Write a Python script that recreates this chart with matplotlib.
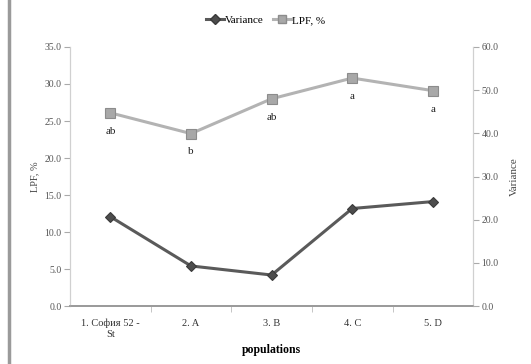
import matplotlib.pyplot as plt
from matplotlib.lines import Line2D

# data
populations = ['1. София 52 -\nSt', '2. A', '3. B', '4. C', '5. D']
lpf = [26.1, 23.3, 28.0, 30.8, 29.1]          # left axis, %
variance = [20.7, 9.3, 7.2, 22.6, 24.2]       # right axis
letters = ['ab', 'b', 'ab', 'a', 'a']

plt.rcParams['font.family'] = ['Liberation Serif', 'DejaVu Serif']

fig = plt.figure(figsize=(5.31, 3.64), dpi=100)
ax = fig.add_axes([0.132, 0.159, 0.759, 0.712])
ax2 = ax.twinx()

x = range(len(populations))

# LPF line (light grey squares) on left axis
ax.plot(x, lpf, color='#b3b3b3', lw=2.2, marker='s', ms=7,
        mfc='#a8a8a8', mec='#8c8c8c', mew=0.8, zorder=3)
for xi, yi, t in zip(x, lpf, letters):
    ax.annotate(t, (xi, yi), xytext=(0, -10), textcoords='offset points',
                ha='center', va='top', fontsize=8, color='#222222')

# Variance line (dark grey diamonds) on right axis
ax2.plot(x, variance, color='#5a5a5a', lw=2.2, marker='D', ms=5.5,
         mfc='#4d4d4d', mec='#3a3a3a', mew=0.8, zorder=3)

ax.set_xlim(-0.5, 4.5)
ax.set_ylim(0, 35)
ax2.set_ylim(0, 60)
ax.set_yticks(range(0, 36, 5))
ax.set_yticklabels([f'{v:.1f}' for v in range(0, 36, 5)])
ax2.set_yticks(range(0, 61, 10))
ax2.set_yticklabels([f'{v:.1f}' for v in range(0, 61, 10)])

ax.set_xticks(list(x))
ax.set_xticklabels(populations, fontsize=7.5, color='#333333')
ax.set_xticks([0.5, 1.5, 2.5, 3.5], minor=True)
ax.tick_params(axis='x', which='major', length=0, pad=9)
ax.tick_params(axis='x', which='minor', length=4, color='#bbbbbb', direction='out')

for a in (ax, ax2):
    a.tick_params(axis='y', labelsize=7, labelcolor='#555555',
                  color='#aaaaaa', length=4, width=0.8, pad=2)
    a.spines['top'].set_visible(False)
    a.spines['left'].set_color('#d0d0d0')
    a.spines['right'].set_color('#d0d0d0')
    a.spines['bottom'].set_color('#999999')
    a.spines['bottom'].set_linewidth(1.2)

ax.set_ylabel('LPF, %', fontsize=7.5, color='#444444', labelpad=4)
ax2.set_ylabel('Variance', fontsize=8, color='#444444', rotation=90,
               labelpad=8)
ax.set_xlabel('populations', fontsize=8.5, fontweight='bold', labelpad=4)

handles = [
    Line2D([], [], color='#5a5a5a', lw=2.2, marker='D', ms=5,
           mfc='#4d4d4d', mec='#3a3a3a'),
    Line2D([], [], color='#b3b3b3', lw=2.2, marker='s', ms=6,
           mfc='#a8a8a8', mec='#8c8c8c'),
]
fig.legend(handles, ['Variance', 'LPF, %'], loc='center', ncol=2,
           bbox_to_anchor=(0.5, 0.945), frameon=False, fontsize=8,
           handlelength=1.6, handletextpad=0.1, columnspacing=0.8)

# grey border bar on the left edge
fig.add_artist(Line2D([0.017, 0.017], [0.0, 1.0], color='#9a9a9a', lw=2.5))

fig.savefig('out.png', dpi=100)
